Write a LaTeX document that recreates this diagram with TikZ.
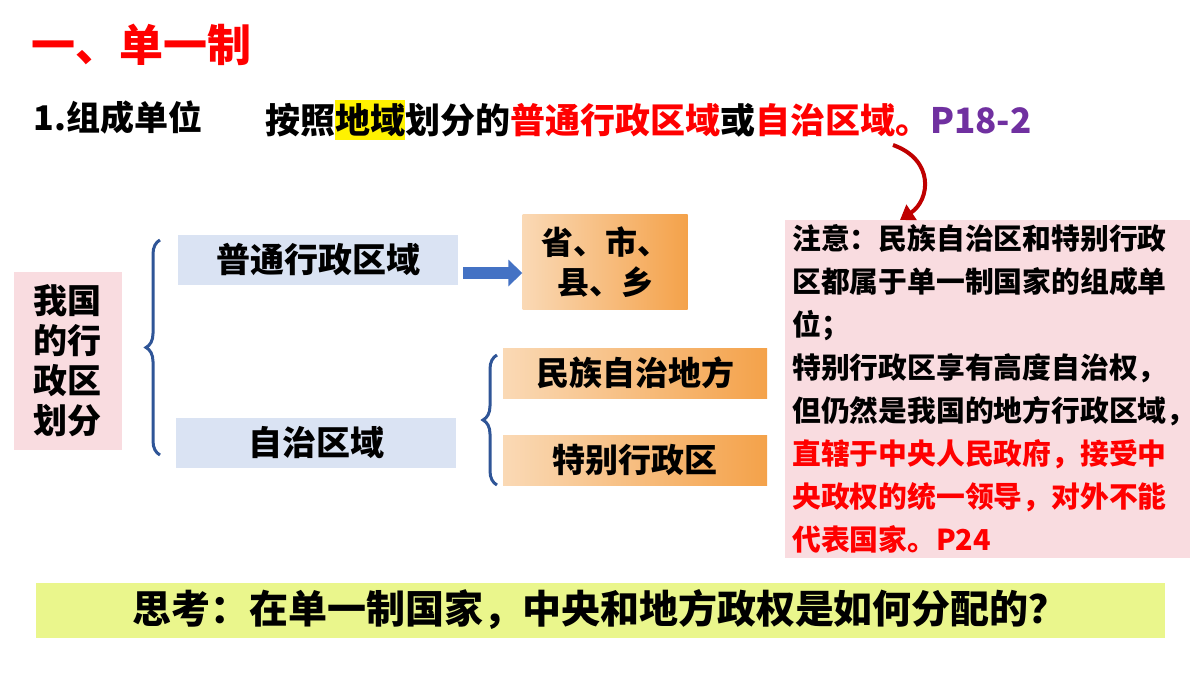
\documentclass[tikz,border=0pt]{standalone}
\usepackage{fontspec}
\setmainfont{Noto Sans CJK SC}
\usetikzlibrary{arrows.meta,decorations.pathreplacing,shadings}
\definecolor{lblue}{HTML}{DAE3F3}
\definecolor{lpink}{HTML}{F9DCE0}
\definecolor{ygreen}{HTML}{EAF68C}
\definecolor{orD}{HTML}{F4A24A}
\definecolor{orL}{HTML}{FAD9B5}
\definecolor{myred}{HTML}{FF0000}
\definecolor{mypurple}{HTML}{7030A0}
\definecolor{brc}{HTML}{2F5597}
\definecolor{arrb}{HTML}{4472C4}
\begin{document}
\begin{tikzpicture}[x=1pt,y=-1pt,font=\bfseries,
 bbox/.style={fill=lblue,minimum width=280pt,minimum height=50pt,font=\fontsize{34}{38}\bfseries\selectfont},
 obox/.style={left color=orL,right color=orD,minimum width=264pt,minimum height=50pt,font=\fontsize{33}{38}\bfseries\selectfont},
 brace/.style={draw=brc,line width=3pt,decorate,decoration={brace,amplitude=14pt}}]
\useasboundingbox (0,0) rectangle (1200,675);
\node[anchor=west,text=myred,font=\fontsize{44}{48}\bfseries\selectfont] (title) at (28,45) {一、单一制};
\node[anchor=west,font=\fontsize{34}{38}\bfseries\selectfont] (unit) at (30,118) {1.组成单位};
\node[anchor=west,inner sep=0pt,font=\fontsize{35}{38}\bfseries\selectfont] (def) at (265,120) {按照\colorbox{yellow}{\hspace{-3pt}地域\hspace{-3pt}}划分的\textcolor{myred}{普通行政区域}或\textcolor{myred}{自治区域。}\textcolor{mypurple}{P18-2}};
\coordinate (arrS) at (893,145);
\node[fill=lpink,minimum width=108pt,minimum height=178pt,align=center,font=\fontsize{34}{40}\bfseries\selectfont] (root) at (68,361) {我国\\的行\\政区\\划分};
\draw[brace] (160,455) -- (160,240);
\node[bbox] (pt) at (318,260) {普通行政区域};
\node[bbox] (zz) at (316,443) {自治区域};
\node[left color=orL,right color=orD,minimum width=165pt,minimum height=95pt,align=center,font=\fontsize{32}{40}\bfseries\selectfont] (sheng) at (605,262) {省、市、\\县、乡};
\draw[-{Triangle[length=14pt,width=26pt]},line width=12pt,draw=arrb] (pt.east)++(5,13) -- (sheng.west|-0,273);
\draw[brace] (497,485) -- (497,355);
\node[obox] (mz) at (635,373) {民族自治地方};
\node[obox] (tb) at (635,460) {特别行政区};
\node[fill=lpink,minimum width=405pt,minimum height=338pt,anchor=north west,inner sep=0pt] (note) at (785,220) {};
\node[anchor=north west,align=left,inner sep=0pt,font=\fontsize{28.8}{43}\bfseries\selectfont] (notet) at (792,224) {注意：民族自治区和特别行政\\区都属于单一制国家的组成单\\位；\\特别行政区享有高度自治权，\\但仍然是我国的地方行政区域，\\\textcolor{myred}{直辖于中央人民政府，接受中}\\\textcolor{myred}{央政权的统一领导，对外不能}\\\textcolor{myred}{代表国家。P24}};
\draw[-{Triangle[length=14pt,width=18pt]},line width=4pt,draw=red!75!black] (arrS) .. controls (935,160) and (930,200) .. (note.north west-|900,0);
\node[fill=ygreen,minimum width=1129pt,minimum height=55pt,font=\fontsize{39}{42}\bfseries\selectfont] (think) at (600,610) {思考：在单一制国家，中央和地方政权是如何分配的？};
\end{tikzpicture}
\end{document}
